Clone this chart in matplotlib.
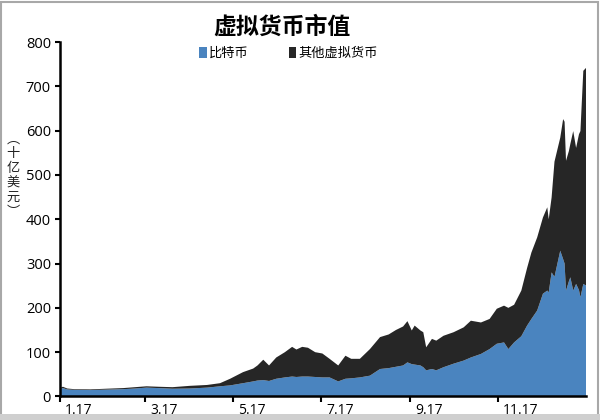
import matplotlib
matplotlib.use("Agg")
import matplotlib.pyplot as plt
import matplotlib.transforms as mtransforms
from matplotlib.patches import Patch, Rectangle
import pandas as pd
import numpy as np

plt.rcParams['font.family'] = ['Open Sans', 'Noto Sans CJK SC', 'DejaVu Sans']

title = "虚拟货币市值"
series_names = ["比特币", "其他虚拟货币"]
ylabel_chars = ["︵", "十", "亿", "美", "元", "︶"]

# days since 2017-01-01
day_offsets = [0, 2, 5, 10, 21, 32, 44, 52, 60, 68,
               78, 90, 102, 111, 118, 127, 134, 137, 141, 145,
               150, 156, 161, 164, 168, 172, 177, 182, 187, 193,
               198, 202, 208, 215, 222, 228, 233, 238, 241, 244,
               246, 250, 252, 254, 258, 261, 266, 273, 280, 285,
               292, 298, 303, 308, 311, 315, 320, 324, 327, 331,
               335, 338, 339, 341, 343, 347, 349, 350, 351, 353,
               354, 356, 358, 360, 361, 363, 365]

bitcoin = [17, 19, 16, 15, 14.5, 15.5, 16.5, 18, 20, 19,
           17.5, 18, 20, 23, 25, 30, 34, 36, 37, 35,
           40, 43, 45, 44, 45, 45, 44, 43, 43, 34,
           40, 41, 43, 47, 62, 64, 67, 70, 77, 73,
           72, 70, 66, 59, 62, 59, 66, 74, 81, 88,
           96, 107, 119, 122, 107, 122, 136, 160, 175, 194,
           232, 239, 235, 280, 270, 329, 310, 300, 239, 260,
           269, 239, 254, 240, 224, 254, 250]

total = [19, 22, 18, 16.5, 16, 17.5, 19, 21, 23, 22,
         21, 24, 26, 30, 40, 55, 63, 70, 83, 70,
         88, 100, 112, 106, 112, 110, 100, 97, 85, 70,
         92, 85, 85, 107, 134, 140, 150, 158, 170, 149,
         160, 149, 145, 111, 130, 126, 137, 145, 156, 171,
         167, 175, 198, 205, 200, 207, 239, 290, 325, 359,
         404, 427, 400, 449, 530, 584, 626, 620, 532, 554,
         570, 599, 561, 592, 599, 735, 742]

xtick_dates = ["2017-01-01", "2017-03-01", "2017-05-01", "2017-07-01", "2017-09-01", "2017-11-01"]
xtick_labels = ["1.17", "3.17", "5.17", "7.17", "9.17", "11.17"]
yticks = [0, 100, 200, 300, 400, 500, 600, 700, 800]

x = pd.Timestamp("2017-01-01") + pd.to_timedelta(day_offsets, unit="D")
btc = np.array(bitcoin, dtype=float)
others = np.array(total, dtype=float) - btc

fig = plt.figure(figsize=(6, 4.2), dpi=100)
ax = fig.add_axes([0.1, 0.056, 0.877, 0.844])

ax.stackplot(x, btc, others, colors=['#4a84bf', '#262626'], linewidth=0)

ax.set_xlim(pd.Timestamp("2017-01-01"), pd.Timestamp("2018-01-01"))
ax.set_ylim(0, 800)
ax.set_yticks(yticks)
ax.set_xticks(pd.to_datetime(xtick_dates))
ax.set_xticklabels(xtick_labels)

for s in ['top', 'right']:
    ax.spines[s].set_visible(False)
for s in ['left', 'bottom']:
    ax.spines[s].set_linewidth(1.8)
    ax.spines[s].set_color('black')

ax.tick_params(axis='y', direction='out', length=3.5, width=1.5, pad=3, labelsize=10.5)
ax.tick_params(axis='x', direction='out', length=4, width=1.5, pad=0.5, labelsize=10)
offset = mtransforms.ScaledTranslation(5/100, 0, fig.dpi_scale_trans)
for lab in ax.get_xticklabels():
    lab.set_horizontalalignment('left')
    lab.set_transform(lab.get_transform() + offset)

fig.text(0.47, 0.936, title, ha='center', va='center', fontsize=16.5,
         fontweight='bold', family=['Noto Sans CJK SC', 'DejaVu Sans'])

# vertical y-axis label, one character per line
y0_px, pitch_px = 139.5, 14.5
for i, ch in enumerate(ylabel_chars):
    fig.text(13/600, 1 - (y0_px + i*pitch_px)/420, ch, ha='center', va='center',
             fontsize=9.5, family=['Noto Sans CJK SC', 'DejaVu Sans'], color='#222222')

handles = [Patch(facecolor='#4a84bf', edgecolor='none'),
           Patch(facecolor='#262626', edgecolor='none')]
leg = fig.legend(handles, series_names, loc='center', bbox_to_anchor=(0.481, 0.873),
                 ncol=2, frameon=False, handlelength=0.6, handleheight=0.9,
                 handletextpad=0.15, columnspacing=3.0,
                 prop={'family': ['Noto Sans CJK SC', 'DejaVu Sans'], 'size': 9.5})

fig.patches.append(Rectangle((0.002, 0.002), 0.995, 0.994, transform=fig.transFigure,
                             fill=False, edgecolor='#a8a8a8', linewidth=1.5))
fig.patches.append(Rectangle((0, 0), 1, 6/420, transform=fig.transFigure,
                             facecolor='#cfcfcf', edgecolor='none'))

fig.savefig("out.png", dpi=100)
